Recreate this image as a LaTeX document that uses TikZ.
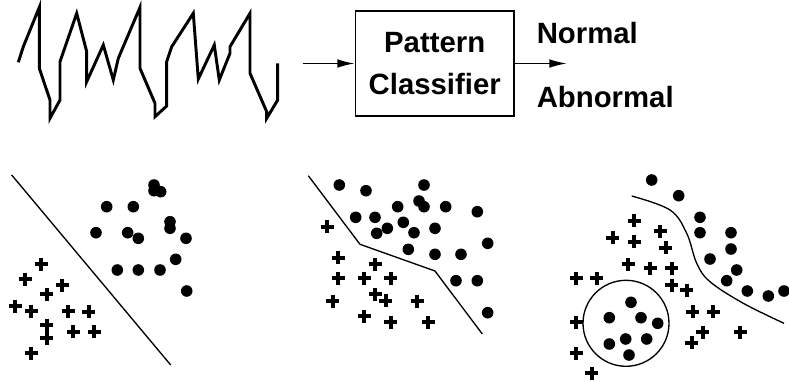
\documentclass[tikz,border=0pt]{standalone}
\usepackage{fontspec}
\setmainfont{Liberation Sans}
\usetikzlibrary{arrows.meta}
\tikzset{
  sig/.style={line width=2.2pt},
  dot/.style={fill=black},
  plusmark/.style={line width=3pt},
  bound/.style={line width=1pt},
  flow/.style={line width=1.1pt,-{Latex[length=13pt,width=6.5pt]}},
}
\begin{document}
\begin{tikzpicture}[x=0.75pt,y=-0.75pt,font=\fontsize{22}{31}\selectfont\bfseries]
	\useasboundingbox (0,0) rectangle (789,382);
	% signal
	\draw[sig] (18.3,62.3) -- (23.3,46.7) -- (39.3,7.3) -- (39.3,68.3) -- (50,100) -- (50,118.3) -- (60,100) -- (60,61.7)
		-- (76.7,13.3) -- (86.7,51.7) -- (86.7,81.7) -- (103.3,45) -- (113.3,80) -- (118.3,58.3) -- (140,7.3) -- (140,68.3)
		-- (155,103.3) -- (155,116.7) -- (166.7,106) -- (166.7,61.7) -- (171.7,46.7) -- (193.3,13.3) -- (198.3,79)
		-- (214.3,45) -- (219.3,80) -- (230,53.3) -- (230,46.7) -- (250,13.3) -- (250,73.3) -- (266.7,111.7) -- (266.7,118.3)
		-- (277.7,100) -- (277.7,63.3);
	%
	\coordinate (in) at (303.3,63.5);
	\node[draw,line width=1.1pt,minimum width=119pt,minimum height=79pt,align=center] (clf) at (434.7,63.5) {Pattern\\Classifier};
	\coordinate (out) at (566.7,63.5);
	\node[anchor=west,inner sep=0pt] (normal) at (536.5,33) {Normal};
	\node[anchor=west,inner sep=0pt] (abnormal) at (536.5,97) {Abnormal};
	\draw[flow] (in) -- (clf);
	\draw[flow] (clf) -- (out);
	% linear
	\draw[bound] (11.7,175) -- (170.7,365);
	\foreach \x/\y in {154/185,154/190.7,160.7/191.7,106.7/206.7,133.3/206.7,170/221.7,170/228.3,96/232.7,127.7/232.7,
		138.3/238.3,186/238.3,175.7/259.3,117.3/270,138.3/270,160/270,186.7/291}
		\fill[dot] (\x,\y) circle (5.8);
	\foreach \x/\y in {41/264,25/279,62/285,46.7/294.3,15/306,31/311,68.3/311,88.7/311.7,46.7/325,46.7/338.3,
		73.3/331.7,94.3/331.7,31/353.3}
		\draw[plusmark] (\x-6.5,\y) -- (\x+6.5,\y) (\x,\y-6.5) -- (\x,\y+6.5);
	% piecewise linear
	\draw[bound] (308.3,175.7) -- (360,244.3) -- (435,271) -- (482.3,334);
	\foreach \x/\y in {339.3/185,366/190.7,424/185,397.7/206.7,419/201,424/206.7,445.7/206.7,477.3/211.7,355.7/217.3,
		375/217.3,403.3/222.3,387.3/228.3,376.7/233.3,414/232.7,435/228.3,487.7/243.3,408.3/249.3,435/254.3,461/254.3,
		456/280.7,477.3/280.7,487.7/312.7}
		\fill[dot] (\x,\y) circle (5.8);
	\foreach \x/\y in {327.3/226.7,338.3/257.7,375/264,338.3/278.3,364.3/278.3,390.7/278.3,375/294.3,385.7/300.7,
		332.7/301,417.3/301,364.3/316,390.7/322.3,428.3/322.3}
		\draw[plusmark] (\x-6.5,\y) -- (\x+6.5,\y) (\x,\y-6.5) -- (\x,\y+6.5);
	% nonlinear
	\draw[bound] plot[smooth,tension=0.6] coordinates {(631.7,196) (670,210) (686.7,233.3) (696.7,263.3) (710,281.7) (743.3,303.3) (784,323.3)};
	\draw[bound] (626,323.3) circle (43);
	\foreach \x/\y in {651.7/180,678.7/195.7,700/217.3,700/232.7,731/232.7,731/249,710/259,736.7/270,726.7/280.7,
		747.3/291,768.3/296,784/291,631/302.3,609.3/317.7,641/317.7,657.7/323.3,625.7/339,646.7/339,609.3/344,629/355}
		\fill[dot] (\x,\y) circle (5.8);
	\foreach \x/\y in {634.3/220.7,612.7/237.7,634.3/241.7,660/231,665.7/247.7,628.3/264,650/268.3,671.7/268.3,
		671.7/285,686.7/290,576/278.3,596.7/278.3,692.7/311.7,713.3/311.7,702.7/332.3,691.7/342.7,740/332.3,
		576/322.3,576/353.3,591.7/373.3}
		\draw[plusmark] (\x-6.5,\y) -- (\x+6.5,\y) (\x,\y-6.5) -- (\x,\y+6.5);
\end{tikzpicture}
\end{document}
